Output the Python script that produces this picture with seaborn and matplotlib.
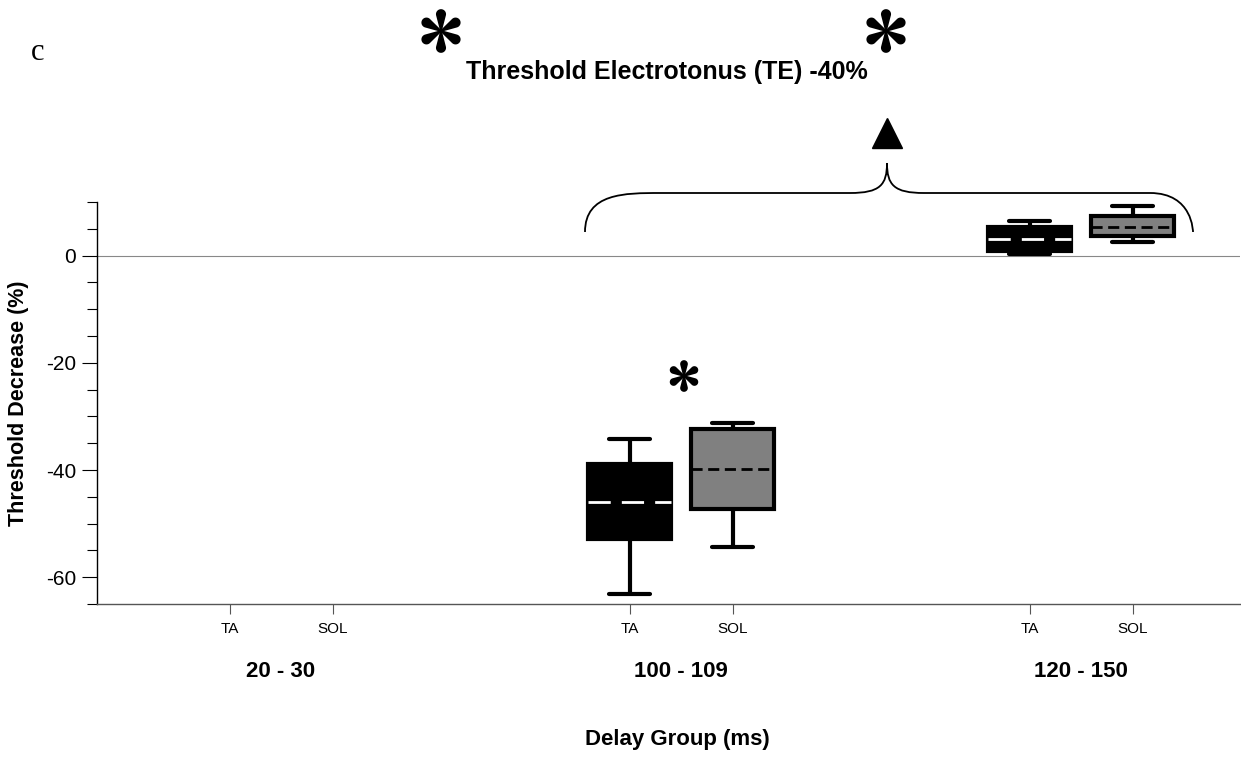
import numpy as np
import pandas as pd
import matplotlib
matplotlib.use("Agg")
import matplotlib.pyplot as plt
from matplotlib.path import Path
from matplotlib.patches import PathPatch, Polygon
from matplotlib.ticker import MultipleLocator
import seaborn as sns

# five-number summaries: min, q1, median, q3, max
groups = ["20 - 30", "100 - 109", "120 - 150"]
muscles = ["TA", "SOL"]
ta_100 = [-63.1, -52.8, -45.9, -38.8, -34.3]
sol_100 = [-54.3, -47.2, -39.9, -32.3, -31.3]
ta_120 = [0.3, 0.9, 3.1, 5.3, 6.4]
sol_120 = [2.5, 3.7, 5.4, 7.3, 9.2]

rows = []
for g, m, vals in [("100 - 109", "TA", ta_100), ("100 - 109", "SOL", sol_100),
                   ("120 - 150", "TA", ta_120), ("120 - 150", "SOL", sol_120)]:
    for v in vals:
        rows.append({"group": g, "muscle": m, "value": v})
df = pd.DataFrame(rows)

sns.set_style("white")
plt.rcParams["font.family"] = ["Liberation Sans", "DejaVu Sans"]
plt.rcParams["text.color"] = "black"
plt.rcParams["axes.labelcolor"] = "black"
plt.rcParams["xtick.color"] = "black"
plt.rcParams["ytick.color"] = "black"


def asterisk(ax, cx, cy, size):
    # six slender teardrop petals, pixel coords
    L = size / 2.0
    r = 0.2 * L
    c = L - r
    a = np.arcsin(r / c)
    for k in range(6):
        th = np.pi / 2 + k * np.pi / 3
        ang = np.linspace(-(np.pi / 2 + a), np.pi / 2 + a, 40) + th
        ccx, ccy = c * np.cos(th), c * np.sin(th)
        px = [0] + list(ccx + r * np.cos(ang))
        py = [0] + list(ccy + r * np.sin(ang))
        pts = np.column_stack([cx + np.array(px), cy - np.array(py)])
        ax.add_patch(Polygon(pts, closed=True, facecolor="black", edgecolor="black", linewidth=1.2))


W, H = 1241, 761
fig = plt.figure(figsize=(W / 100, H / 100), dpi=100)
ax = fig.add_axes([97 / W, 1 - 604 / H, (1240 - 97) / W, (604 - 202) / H])

width = 0.515
common = dict(x="group", y="value", hue="muscle", order=groups, hue_order=muscles,
              width=width, gap=0.2, dodge=True, whis=(0, 100), linecolor="black", linewidth=3,
              palette={"TA": "black", "SOL": "#808080"}, legend=False, ax=ax)
sns.boxplot(data=df[df.muscle == "TA"], medianprops=dict(color="white", linewidth=2, linestyle=(0, (8, 4))), **common)
sns.boxplot(data=df[df.muscle == "SOL"], medianprops=dict(color="black", linewidth=2, linestyle=(0, (4, 2))), **common)

ax.set_xlim((97 - 281) / 400, (1240 - 281) / 400)
ax.set_ylim(-65, 10)
ax.axhline(0, color="#888888", linewidth=0.8, zorder=0)

off = width / 4
xt = []
xl = []
for i in range(len(groups)):
    xt += [i - off, i + off]
    xl += muscles
ax.set_xticks(xt)
ax.set_xticklabels(xl, fontsize=11)
ax.tick_params(axis="x", direction="out", length=7, width=0.8, color="#555555", pad=6, bottom=True)
ax.set_yticks([0, -20, -40, -60])
ax.set_yticklabels(["0", "-20", "-40", "-60"], fontsize=15)
ax.yaxis.set_minor_locator(MultipleLocator(5))
ax.tick_params(axis="y", which="major", direction="out", length=11, width=0.8, left=True, pad=4)
ax.tick_params(axis="y", which="minor", direction="out", length=7, width=0.8, left=True)
ax.set_xlabel("")
ax.set_ylabel("Threshold Decrease (%)", fontsize=15.5, fontweight="bold", labelpad=12)
for s in ["top", "right"]:
    ax.spines[s].set_visible(False)
ax.spines["left"].set_color("black")
ax.spines["left"].set_linewidth(1)
ax.spines["bottom"].set_color("#555555")
ax.spines["bottom"].set_linewidth(1)

for i, g in enumerate(groups):
    ax.text(i, -0.167, g, transform=ax.get_xaxis_transform(), ha="center", va="center",
            fontsize=16, fontweight="bold")

# overlay in pixel coordinates for annotations
ov = fig.add_axes([0, 0, 1, 1], facecolor="none")
ov.set_xlim(0, W)
ov.set_ylim(H, 0)
ov.axis("off")

ov.text(677, 740, "Delay Group (ms)", ha="center", va="center", fontsize=16, fontweight="bold")
ov.text(667, 72, "Threshold Electrotonus (TE) -40%", ha="center", va="center", fontsize=18, fontweight="bold")
ov.text(38, 52, "c", ha="center", va="center", fontsize=22, family="Liberation Serif")
asterisk(ov, 441, 31, 42)
asterisk(ov, 886, 31, 42)
asterisk(ov, 684, 376, 30)
ov.plot([887], [133], marker="^", markersize=22, color="black")

# curly brace
verts = [(585, 232), (585, 193), (625, 193), (660, 193),
         (850, 193),
         (880, 193), (887, 185), (887, 163),
         (887, 185), (894, 193), (924, 193),
         (1150, 193),
         (1193, 193), (1193, 232), (1193, 232)]
codes = [Path.MOVETO, Path.CURVE4, Path.CURVE4, Path.CURVE4,
         Path.LINETO,
         Path.CURVE4, Path.CURVE4, Path.CURVE4,
         Path.CURVE4, Path.CURVE4, Path.CURVE4,
         Path.LINETO,
         Path.CURVE4, Path.CURVE4, Path.CURVE4]
ov.add_patch(PathPatch(Path(verts, codes), facecolor="none", edgecolor="black", linewidth=1.3))

fig.savefig("out.png", dpi=100)
